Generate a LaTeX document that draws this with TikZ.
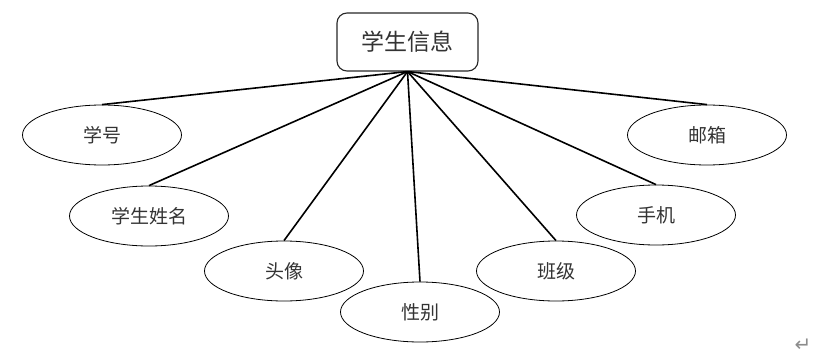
\documentclass[tikz,border=0pt]{standalone}
\usepackage{fontspec}
\newfontfamily\cjk{Noto Sans CJK SC}
\newfontfamily\symfont{DejaVu Sans}
\usetikzlibrary{shapes.geometric}
\tikzset{
  entity/.style={draw=black!85, line width=1.1pt, rounded corners=10pt, minimum width=141pt, minimum height=58pt, font=\cjk\fontsize{23}{27}\selectfont, text=black!80},
  attr/.style={ellipse, draw=black, line width=0.8pt, minimum width=159pt, minimum height=60pt, inner sep=0pt, font=\cjk\fontsize{19}{22}\selectfont, text=black!80},
  link/.style={black, line width=1.6pt}
}
\begin{document}
\begin{tikzpicture}[x=1pt,y=1pt]
  \useasboundingbox (0,0) rectangle (828,357);
  \node[entity] (info) at (407.5,315) {学生信息};
  \foreach \name/\pos/\txt in {xuehao/{102,222}/学号, xingming/{149,141}/学生姓名, touxiang/{284,86}/头像, xingbie/{420,45}/性别, banji/{556,86}/班级, shouji/{656,142}/手机, youxiang/{707,222}/邮箱}{
    \node[attr] (\name) at (\pos) {\txt};
    \draw[link] (info.south) -- (\name.north);
  }
  \node[font=\symfont\fontsize{20}{20}\selectfont, text=black!45] (mark) at (803,12) {↵};
\end{tikzpicture}
\end{document}
